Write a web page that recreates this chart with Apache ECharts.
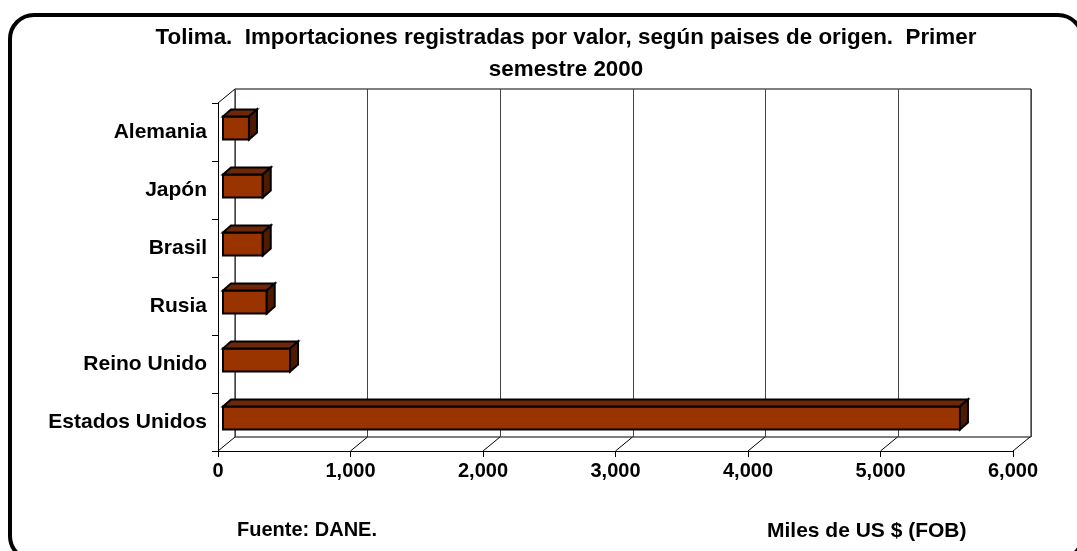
<!DOCTYPE html>
<html>
<head>
<meta charset="utf-8">
<title>Tolima. Importaciones por países de origen</title>
<script src="https://cdn.jsdelivr.net/npm/echarts@6/dist/echarts.min.js"></script>
<style>
  html, body { margin: 0; padding: 0; background: #fff; }
  #chart { width: 1077px; height: 551px; }
</style>
</head>
<body>
<div id="chart"></div>
<script>
// datos (miles de US$ FOB)
const paises = ['Alemania', 'Japón', 'Brasil', 'Rusia', 'Reino Unido', 'Estados Unidos']
const valores = [196, 300, 300, 330, 506, 5562]
const ticksX = [0, 1000, 2000, 3000, 4000, 5000, 6000]

const FONT = '"Liberation Sans", Arial, sans-serif'
const DX = 17, DY = 14      // profundidad del piso / pared
const BDX = 8, BDY = 7      // profundidad de las barras

const chart = echarts.init(document.getElementById('chart'))

// barra 3D: cara frontal, superior y lateral
const renderBar = (params, api) => {
  const cat = api.value(0)
  const start = api.coord([0, cat])
  const end = api.coord([api.value(1), cat])
  const h = api.size([0, 1])[1] * 0.4
  const x0 = start[0], x1 = end[0]
  const y0 = start[1] - h / 2, y1 = start[1] + h / 2
  const line = { stroke: '#000', lineWidth: 2 }
  return {
    type: 'group',
    children: [
      { type: 'rect', shape: { x: x0, y: y0, width: x1 - x0, height: h },
        style: Object.assign({ fill: '#993300' }, line) },
      { type: 'polygon', shape: { points: [[x0, y0], [x0 + BDX, y0 - BDY], [x1 + BDX, y0 - BDY], [x1, y0]] },
        style: Object.assign({ fill: '#6e2708' }, line) },
      { type: 'polygon', shape: { points: [[x1, y0], [x1 + BDX, y0 - BDY], [x1 + BDX, y1 - BDY], [x1, y1]] },
        style: Object.assign({ fill: '#4f1a00' }, line) }
    ]
  }
}

// diagonales del piso en cada marca del eje
const renderFloor = (params, api) => {
  const cs = params.coordSys
  const x = api.coord([api.value(0), 0])[0]
  const yb = cs.y + cs.height
  const children = [
    { type: 'line', shape: { x1: x, y1: yb, x2: x + DX, y2: yb - DY },
      style: { stroke: '#000', lineWidth: 1 } }
  ]
  if (params.dataIndex === 0) {
    children.push({ type: 'line', shape: { x1: cs.x, y1: cs.y, x2: cs.x + DX, y2: cs.y - DY },
      style: { stroke: '#000', lineWidth: 1 } })
  }
  return { type: 'group', children }
}

const option = {
  animation: false,
  backgroundColor: '#fff',
  textStyle: { fontFamily: FONT },
  title: [
    {
      text: 'Tolima.  Importaciones registradas por valor, según paises de origen.  Primer\nsemestre 2000',
      left: 566,
      top: 22,
      padding: 0,
      textAlign: 'center',
      textStyle: { fontFamily: FONT, fontSize: 22.4, fontWeight: 'bold', color: '#000', lineHeight: 32 }
    },
    {
      text: 'Fuente: DANE.',
      left: 237,
      top: 520,
      padding: 0,
      textStyle: { fontFamily: FONT, fontSize: 20, fontWeight: 'bold', color: '#000' }
    },
    {
      text: 'Miles de US $ (FOB)',
      left: 767,
      top: 521,
      padding: 0,
      textStyle: { fontFamily: FONT, fontSize: 21, fontWeight: 'bold', color: '#000' }
    }
  ],
  graphic: [
    {
      type: 'rect',
      shape: { x: 10, y: 15, width: 1072, height: 545, r: 24 },
      style: { fill: 'none', stroke: '#000', lineWidth: 4 },
      silent: true
    }
  ],
  grid: [
    // pared del fondo
    { left: 235, right: 46, top: 89, bottom: 114, show: true, borderColor: '#000', borderWidth: 1 },
    // eje frontal
    { left: 218, right: 64, top: 103, bottom: 100 },
    // plano de las barras
    { left: 223, right: 59, top: 99, bottom: 104 }
  ],
  xAxis: [
    {
      gridIndex: 0, type: 'value', min: 0, max: 6000, interval: 1000,
      axisLine: { show: false }, axisTick: { show: false }, axisLabel: { show: false },
      splitLine: { show: true, lineStyle: { color: '#444', width: 1 } }
    },
    {
      gridIndex: 1, type: 'value', min: 0, max: 6000, interval: 1000,
      axisLine: { show: true, lineStyle: { color: '#000', width: 1 } },
      axisTick: { show: true, length: 6, lineStyle: { color: '#000' } },
      splitLine: { show: false },
      axisLabel: {
        margin: 10, color: '#000', fontFamily: FONT, fontSize: 20, fontWeight: 'bold',
        formatter: v => v.toLocaleString('en-US')
      }
    },
    {
      gridIndex: 2, type: 'value', min: 0, max: 6000, show: false
    }
  ],
  yAxis: [
    { gridIndex: 0, type: 'category', data: paises, inverse: true, show: false },
    {
      gridIndex: 1, type: 'category', data: paises, inverse: true,
      axisLine: { show: true, lineStyle: { color: '#000', width: 1 } },
      axisTick: { show: true, length: 6, lineStyle: { color: '#000' } },
      axisLabel: { margin: 11, color: '#000', fontFamily: FONT, fontSize: 21, fontWeight: 'bold' }
    },
    { gridIndex: 2, type: 'category', data: paises, inverse: true, show: false }
  ],
  series: [
    {
      type: 'custom',
      name: 'piso',
      xAxisIndex: 1,
      yAxisIndex: 1,
      renderItem: renderFloor,
      data: ticksX.map(v => [v]),
      encode: { x: 0 },
      silent: true,
      z: 1
    },
    {
      type: 'custom',
      name: 'Importaciones',
      xAxisIndex: 2,
      yAxisIndex: 2,
      renderItem: renderBar,
      data: valores.map((v, i) => [i, v]),
      encode: { x: 1, y: 0 },
      z: 5
    }
  ]
}

chart.setOption(option)
</script>
</body>
</html>
